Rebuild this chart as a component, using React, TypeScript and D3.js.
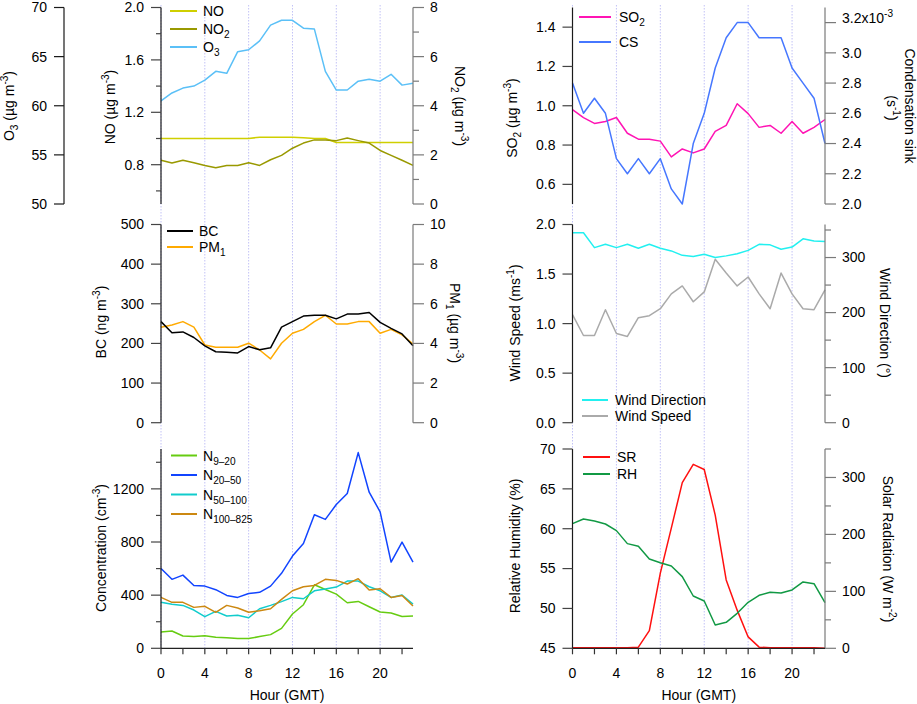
import React from 'react';
import * as d3 from 'd3';

const FONT = '"Liberation Sans", Arial, Helvetica, sans-serif';
const FS = 14;

// ---------------- data ----------------
const hours = [0, 1, 2, 3, 4, 5, 6, 7, 8, 9, 10, 11, 12, 13, 14, 15, 16, 17, 18, 19, 20, 21, 22, 23];
const xTickHours = [0, 2, 4, 6, 8, 10, 12, 14, 16, 18, 20, 22];
const xLabelHours = [0, 4, 8, 12, 16, 20];
const gridHours = [0, 4, 8, 12, 16, 20];

const noVals = [1.0, 1.0, 1.0, 1.0, 1.0, 1.0, 1.0, 1.0, 1.0, 1.01, 1.01, 1.01, 1.01, 1.005, 1.0, 1.0, 0.97, 0.97, 0.97, 0.97, 0.97, 0.97, 0.97, 0.97];
const no2Vals = [1.78, 1.67, 1.78, 1.68, 1.57, 1.48, 1.57, 1.57, 1.68, 1.57, 1.8, 1.98, 2.27, 2.48, 2.61, 2.61, 2.58, 2.69, 2.58, 2.48, 2.18, 1.98, 1.78, 1.57];
const o3Vals = [60.5, 61.3, 61.8, 62.0, 62.6, 63.5, 63.3, 65.5, 65.7, 66.6, 68.2, 68.7, 68.7, 67.9, 67.8, 63.5, 61.6, 61.6, 62.5, 62.7, 62.5, 63.2, 62.1, 62.3];

const so2Vals = [0.98, 0.94, 0.91, 0.92, 0.94, 0.86, 0.83, 0.83, 0.82, 0.74, 0.78, 0.76, 0.78, 0.87, 0.9, 1.01, 0.96, 0.89, 0.9, 0.86, 0.92, 0.86, 0.89, 0.93];
const csVals = [2.8e-3, 2.6e-3, 2.7e-3, 2.6e-3, 2.3e-3, 2.2e-3, 2.3e-3, 2.2e-3, 2.3e-3, 2.1e-3, 2.0e-3, 2.4e-3, 2.6e-3, 2.9e-3, 3.1e-3, 3.2e-3, 3.2e-3, 3.1e-3, 3.1e-3, 3.1e-3, 2.9e-3, 2.8e-3, 2.7e-3, 2.4e-3];

const bcVals = [255, 227, 229, 215, 194, 179, 178, 176, 192, 184, 189, 241, 255, 269, 271, 271, 262, 274, 274, 278, 253, 238, 224, 194];
const pm1Vals = [4.82, 4.93, 5.1, 4.82, 3.92, 3.81, 3.81, 3.81, 4.01, 3.67, 3.22, 4.01, 4.51, 4.71, 5.1, 5.42, 4.98, 4.98, 5.1, 5.1, 4.51, 4.71, 4.43, 3.97];

const wsVals = [1.09, 0.88, 0.88, 1.14, 0.9, 0.87, 1.06, 1.08, 1.15, 1.3, 1.38, 1.22, 1.32, 1.65, 1.51, 1.38, 1.47, 1.3, 1.15, 1.51, 1.3, 1.15, 1.14, 1.34];
const wdVals = [345, 345, 318, 324, 318, 324, 317, 324, 317, 312, 304, 302, 306, 300, 303, 307, 313, 324, 323, 315, 319, 334, 330, 329];

const n920Vals = [123, 130, 93, 88, 95, 83, 80, 73, 73, 88, 103, 150, 258, 328, 478, 443, 408, 343, 353, 313, 273, 266, 240, 243];
const n2050Vals = [601, 519, 551, 473, 468, 441, 398, 383, 413, 421, 468, 564, 694, 789, 1005, 970, 1082, 1165, 1473, 1175, 1027, 649, 799, 649];
const n50100Vals = [346, 331, 323, 288, 238, 278, 243, 248, 230, 298, 323, 351, 383, 373, 433, 446, 461, 506, 506, 463, 433, 383, 401, 333];
const n100825Vals = [383, 346, 346, 308, 316, 271, 323, 303, 271, 283, 298, 368, 433, 463, 473, 519, 511, 484, 524, 438, 448, 383, 398, 318];

const rhVals = [60.64, 61.22, 60.97, 60.59, 59.76, 58.13, 57.79, 56.2, 55.74, 55.33, 53.99, 51.56, 50.94, 47.93, 48.26, 49.39, 50.77, 51.65, 52.02, 51.94, 52.32, 53.32, 53.11, 50.73];
const srVals = [1, 1, 1, 1, 1, 1, 2, 31, 132, 211, 291, 323, 314, 234, 120, 67, 20, 2, 1, 1, 1, 1, 1, 0];

// ---------------- helpers ----------------
type Seg = { t: string; sub?: boolean; sup?: boolean };
const S = (t: string): Seg => ({ t });
const sb = (t: string): Seg => ({ t, sub: true });
const sp = (t: string): Seg => ({ t, sup: true });

function Rich({ segs, size = FS }: { segs: Seg[]; size?: number }) {
  let cur = 0;
  return (
    <>
      {segs.map((s, i) => {
        const target = s.sub ? size * 0.32 : s.sup ? -size * 0.42 : 0;
        const dy = target - cur;
        cur = target;
        return (
          <tspan key={i} dy={dy} fontSize={s.sub || s.sup ? size * 0.72 : size}>
            {s.t}
          </tspan>
        );
      })}
    </>
  );
}

type Scale = d3.ScaleLinear<number, number>;

function YAxis(props: {
  x: number;
  scale: Scale;
  side: 'left' | 'right';
  major: number[];
  minor?: number[];
  fmt: (v: number) => React.ReactNode;
  lineColor: string;
  tickColor: string;
}) {
  const { x, scale, side, major, minor = [], fmt, lineColor, tickColor } = props;
  const dir = side === 'left' ? -1 : 1;
  const majLen = side === 'left' ? 10 : 11;
  const minLen = side === 'left' ? 5 : 6;
  const [r0, r1] = scale.range();
  return (
    <g>
      <line x1={x} x2={x} y1={r0} y2={r1} stroke={lineColor} strokeWidth={1.2} />
      {major.map((v) => (
        <line key={'M' + v} x1={x} x2={x + dir * majLen} y1={scale(v)} y2={scale(v)} stroke={tickColor} strokeWidth={1.2} />
      ))}
      {minor.map((v) => (
        <line key={'m' + v} x1={x} x2={x + dir * minLen} y1={scale(v)} y2={scale(v)} stroke={tickColor} strokeWidth={1.2} />
      ))}
      {major.map((v) => (
        <text
          key={'t' + v}
          x={x + dir * 17}
          y={scale(v)}
          dy="0.35em"
          textAnchor={side === 'left' ? 'end' : 'start'}
          fontSize={FS}
        >
          {fmt(v)}
        </text>
      ))}
    </g>
  );
}

function XAxis({ xs, y }: { xs: Scale; y: number }) {
  return (
    <g>
      <line x1={xs(0)} x2={xs(23)} y1={y} y2={y} stroke="#222" strokeWidth={1.2} />
      {xTickHours.map((h) => (
        <line key={h} x1={xs(h)} x2={xs(h)} y1={y} y2={y + 6} stroke="#333" strokeWidth={1.2} />
      ))}
      {xLabelHours.map((h) => (
        <text key={'l' + h} x={xs(h)} y={673} dy="0.35em" textAnchor="middle" fontSize={FS}>
          {h}
        </text>
      ))}
      <text x={(xs(0) + xs(23)) / 2} y={695} dy="0.35em" textAnchor="middle" fontSize={FS}>
        Hour (GMT)
      </text>
    </g>
  );
}

function Series({ xs, ys, vals, color }: { xs: Scale; ys: Scale; vals: number[]; color: string }) {
  const gen = d3
    .line<number>()
    .x((_, i) => xs(hours[i]))
    .y((d) => ys(d));
  return <path d={gen(vals) || ''} fill="none" stroke={color} strokeWidth={1.5} strokeLinejoin="round" />;
}

function Legend({ x1, x2, tx, items }: { x1: number; x2: number; tx: number; items: { y: number; color: string; segs: Seg[] }[] }) {
  return (
    <g>
      {items.map((it, i) => (
        <g key={i}>
          <line x1={x1} x2={x2} y1={it.y} y2={it.y} stroke={it.color} strokeWidth={2} />
          <text x={tx} y={it.y + 5} fontSize={FS}>
            <Rich segs={it.segs} />
          </text>
        </g>
      ))}
    </g>
  );
}

function Title({ x, y, rot, segs }: { x: number; y: number; rot: number; segs: Seg[] }) {
  return (
    <text transform={`translate(${x},${y}) rotate(${rot})`} textAnchor="middle" fontSize={FS}>
      <Rich segs={segs} />
    </text>
  );
}

// ---------------- layout ----------------
const LEFT_AX = '#1a1a1a';
const LEFT_TK = '#444';
const RIGHT_AX = '#7a7a7a';
const RIGHT_TK = '#7a7a7a';
const GRID = '#c2c2f6';

const c = {
  no: '#cfcf00',
  no2: '#999900',
  o3: '#5bc0f7',
  so2: '#ff14b4',
  cs: '#4677ff',
  bc: '#000000',
  pm1: '#ffaa00',
  wd: '#22f0f0',
  ws: '#aaaaaa',
  n920: '#66cc11',
  n2050: '#1144ff',
  n50100: '#11cccc',
  n100825: '#cc8811',
  sr: '#ff1010',
  rh: '#119944',
};

const f1 = (v: number) => v.toFixed(1);
const f0 = (v: number) => String(v);

export default function App() {
  const xL = d3.scaleLinear().domain([0, 23]).range([161, 413]);
  const xR = d3.scaleLinear().domain([0, 23]).range([572.5, 825]);
  const TOP: [number, number] = [204, 7.5];
  const MID: [number, number] = [422.7, 224.5];
  const BOT: [number, number] = [648.3, 449];

  const yNO = d3.scaleLinear().domain([0.5, 2.0]).range(TOP);
  const yNO2 = d3.scaleLinear().domain([0, 8]).range(TOP);
  const yO3 = d3.scaleLinear().domain([50, 70]).range(TOP);
  const ySO2 = d3.scaleLinear().domain([0.5, 1.5]).range(TOP);
  const yCS = d3.scaleLinear().domain([2.0e-3, 3.3e-3]).range(TOP);
  const yBC = d3.scaleLinear().domain([0, 500]).range(MID);
  const yPM = d3.scaleLinear().domain([0, 10]).range(MID);
  const yWS = d3.scaleLinear().domain([0, 2]).range(MID);
  const yWD = d3.scaleLinear().domain([0, 360]).range(MID);
  const yN = d3.scaleLinear().domain([0, 1500]).range(BOT);
  const yRH = d3.scaleLinear().domain([45, 70]).range(BOT);
  const ySR = d3.scaleLinear().domain([0, 350]).range(BOT);

  const ugm3: Seg[] = [S(' (µg m'), sp('-3'), S(')')];

  return (
    <svg
      width={917}
      height={704}
      style={{ position: 'absolute', left: 0, top: 0, background: '#fff' }}
      fontFamily={FONT}
    >
      <rect width={917} height={704} fill="#fff" />
      {/* grids */}
      {gridHours.map((h) => (
        <g key={'g' + h}>
          <line x1={xL(h)} x2={xL(h)} y1={5} y2={648} stroke={GRID} strokeWidth={1} strokeDasharray="1.5,1.5" />
          <line x1={xR(h)} x2={xR(h)} y1={5} y2={648} stroke={GRID} strokeWidth={1} strokeDasharray="1.5,1.5" />
        </g>
      ))}

      {/* ---------- top left ---------- */}
      <Series xs={xL} ys={yNO} vals={noVals} color={c.no} />
      <Series xs={xL} ys={yNO2} vals={no2Vals} color={c.no2} />
      <Series xs={xL} ys={yO3} vals={o3Vals} color={c.o3} />
      <YAxis x={64} scale={yO3} side="left" major={[50, 55, 60, 65, 70]} fmt={f0} lineColor={LEFT_AX} tickColor={LEFT_AX} />
      <YAxis
        x={161}
        scale={yNO}
        side="left"
        major={[0.8, 1.2, 1.6, 2.0]}
        minor={[0.6, 1.0, 1.4, 1.8]}
        fmt={f1}
        lineColor={LEFT_AX}
        tickColor={LEFT_TK}
      />
      <YAxis
        x={413}
        scale={yNO2}
        side="right"
        major={[0, 2, 4, 6, 8]}
        minor={[1, 3, 5, 7]}
        fmt={f0}
        lineColor={RIGHT_AX}
        tickColor={RIGHT_TK}
      />
      <Title x={14} y={106} rot={-90} segs={[S('O'), sb('3'), ...ugm3]} />
      <Title x={115} y={107} rot={-90} segs={[S('NO'), ...ugm3]} />
      <Title x={455} y={106} rot={90} segs={[S('NO'), sb('2'), ...ugm3]} />
      <Legend
        x1={170}
        x2={197}
        tx={203}
        items={[
          { y: 11, color: c.no, segs: [S('NO')] },
          { y: 29, color: c.no2, segs: [S('NO'), sb('2')] },
          { y: 47, color: c.o3, segs: [S('O'), sb('3')] },
        ]}
      />

      {/* ---------- top right ---------- */}
      <Series xs={xR} ys={ySO2} vals={so2Vals} color={c.so2} />
      <Series xs={xR} ys={yCS} vals={csVals} color={c.cs} />
      <YAxis x={572.5} scale={ySO2} side="left" major={[0.6, 0.8, 1.0, 1.2, 1.4]} fmt={f1} lineColor={LEFT_AX} tickColor={LEFT_TK} />
      <YAxis
        x={825}
        scale={yCS}
        side="right"
        major={[2.0e-3, 2.2e-3, 2.4e-3, 2.6e-3, 2.8e-3, 3.0e-3, 3.2e-3]}
        fmt={(v) => {
          const s = (v * 1000).toFixed(1);
          if (Math.abs(v - 3.2e-3) < 1e-9) return <Rich segs={[S(s + 'x10'), sp('-3')]} />;
          return s;
        }}
        lineColor={RIGHT_AX}
        tickColor={RIGHT_TK}
      />
      <Title x={517} y={118} rot={-90} segs={[S('SO'), sb('2'), ...ugm3]} />
      <Title x={905} y={106} rot={90} segs={[S('Condensation sink')]} />
      <Title x={887} y={108} rot={90} segs={[S('(s'), sp('-1'), S(')')]} />
      <Legend
        x1={579}
        x2={611}
        tx={619}
        items={[
          { y: 17, color: c.so2, segs: [S('SO'), sb('2')] },
          { y: 42, color: c.cs, segs: [S('CS')] },
        ]}
      />

      {/* ---------- middle left ---------- */}
      <Series xs={xL} ys={yPM} vals={pm1Vals} color={c.pm1} />
      <Series xs={xL} ys={yBC} vals={bcVals} color={c.bc} />
      <YAxis x={161} scale={yBC} side="left" major={[0, 100, 200, 300, 400, 500]} fmt={f0} lineColor={LEFT_AX} tickColor={LEFT_TK} />
      <YAxis x={413} scale={yPM} side="right" major={[0, 2, 4, 6, 8, 10]} fmt={f0} lineColor={RIGHT_AX} tickColor={RIGHT_TK} />
      <Title x={106} y={322} rot={-90} segs={[S('BC (ng m'), sp('-3'), S(')')]} />
      <Title x={450} y={323} rot={90} segs={[S('PM'), sb('1'), ...ugm3]} />
      <Legend
        x1={167}
        x2={193}
        tx={199}
        items={[
          { y: 231, color: c.bc, segs: [S('BC')] },
          { y: 247, color: c.pm1, segs: [S('PM'), sb('1')] },
        ]}
      />

      {/* ---------- middle right ---------- */}
      <Series xs={xR} ys={yWS} vals={wsVals} color={c.ws} />
      <Series xs={xR} ys={yWD} vals={wdVals} color={c.wd} />
      <YAxis x={572.5} scale={yWS} side="left" major={[0, 0.5, 1.0, 1.5, 2.0]} fmt={f1} lineColor={LEFT_AX} tickColor={LEFT_TK} />
      <YAxis
        x={825}
        scale={yWD}
        side="right"
        major={[0, 100, 200, 300]}
        minor={[50, 150, 250, 350]}
        fmt={f0}
        lineColor={RIGHT_AX}
        tickColor={RIGHT_TK}
      />
      <Title x={520} y={323} rot={-90} segs={[S('Wind Speed (ms'), sp('-1'), S(')')]} />
      <Title x={880} y={323} rot={90} segs={[S('Wind Direction (°)')]} />
      <Legend
        x1={582}
        x2={608}
        tx={615}
        items={[
          { y: 400, color: c.wd, segs: [S('Wind Direction')] },
          { y: 416, color: c.ws, segs: [S('Wind Speed')] },
        ]}
      />

      {/* ---------- bottom left ---------- */}
      <Series xs={xL} ys={yN} vals={n920Vals} color={c.n920} />
      <Series xs={xL} ys={yN} vals={n50100Vals} color={c.n50100} />
      <Series xs={xL} ys={yN} vals={n100825Vals} color={c.n100825} />
      <Series xs={xL} ys={yN} vals={n2050Vals} color={c.n2050} />
      <YAxis
        x={161}
        scale={yN}
        side="left"
        major={[0, 400, 800, 1200]}
        minor={[200, 600, 1000, 1400]}
        fmt={f0}
        lineColor={LEFT_AX}
        tickColor={LEFT_TK}
      />
      <XAxis xs={xL} y={648.3} />
      <Title x={106} y={548} rot={-90} segs={[S('Concentration (cm'), sp('-3'), S(')')]} />
      <Legend
        x1={171}
        x2={197}
        tx={203}
        items={[
          { y: 455.5, color: c.n920, segs: [S('N'), sb('9–20')] },
          { y: 475, color: c.n2050, segs: [S('N'), sb('20–50')] },
          { y: 494.5, color: c.n50100, segs: [S('N'), sb('50–100')] },
          { y: 514, color: c.n100825, segs: [S('N'), sb('100–825')] },
        ]}
      />

      {/* ---------- bottom right ---------- */}
      <Series xs={xR} ys={ySR} vals={srVals} color={c.sr} />
      <Series xs={xR} ys={yRH} vals={rhVals} color={c.rh} />
      <YAxis x={572.5} scale={yRH} side="left" major={[45, 50, 55, 60, 65, 70]} fmt={f0} lineColor={LEFT_AX} tickColor={LEFT_TK} />
      <YAxis
        x={825}
        scale={ySR}
        side="right"
        major={[0, 100, 200, 300]}
        minor={[50, 150, 250, 350]}
        fmt={f0}
        lineColor={RIGHT_AX}
        tickColor={RIGHT_TK}
      />
      <XAxis xs={xR} y={648.3} />
      <Title x={520} y={546} rot={-90} segs={[S('Relative Humidity (%)')]} />
      <Title x={883} y={549} rot={90} segs={[S('Solar Radiation (W m'), sp('-2'), S(')')]} />
      <Legend
        x1={583}
        x2={610}
        tx={617}
        items={[
          { y: 457, color: c.sr, segs: [S('SR')] },
          { y: 474, color: c.rh, segs: [S('RH')] },
        ]}
      />
    </svg>
  );
}
